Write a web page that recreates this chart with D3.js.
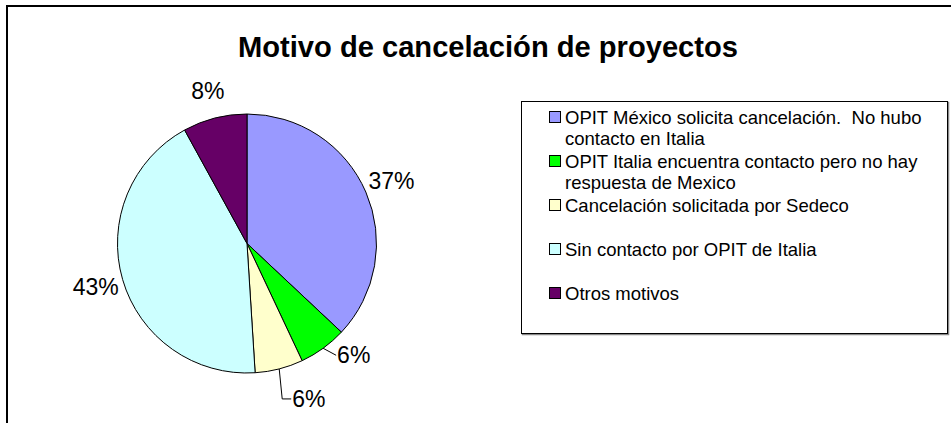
<!DOCTYPE html>
<html>
<head>
<meta charset="utf-8">
<script src="https://cdn.jsdelivr.net/npm/d3@7"></script>
<style>
  body { margin: 0; background: #fff; }
  text { font-family: "Liberation Sans", Arial, sans-serif; white-space: pre; }
</style>
</head>
<body>
<svg class="main-svg" width="951" height="423"></svg>
<script>
// values (percent of cancelled projects)
const motivos = [
  "OPIT México solicita cancelación.  No hubo contacto en Italia",
  "OPIT Italia encuentra contacto pero no hay respuesta de Mexico",
  "Cancelación solicitada por Sedeco",
  "Sin contacto por OPIT de Italia",
  "Otros motivos"
];
const legendLines = [
  ["OPIT México solicita cancelación.  No hubo", "contacto en Italia"],
  ["OPIT Italia encuentra contacto pero no hay", "respuesta de Mexico"],
  ["Cancelación solicitada por Sedeco"],
  ["Sin contacto por OPIT de Italia"],
  ["Otros motivos"]
];
const porcentajes = [37, 6, 6, 43, 8];
const colores = ["#9999ff", "#00ff00", "#ffffcc", "#ccffff", "#660066"];

const svg = d3.select(".main-svg");
const width = 951, height = 423;

// chart frame (only top and left edges show)
svg.append("path")
  .attr("d", `M7,${height} V6 H${width}`)
  .attr("fill", "none")
  .attr("stroke", "#000")
  .attr("stroke-width", 2);

svg.append("text")
  .attr("x", 488)
  .attr("y", 57)
  .attr("text-anchor", "middle")
  .attr("font-size", 30)
  .attr("font-weight", "bold")
  .attr("textLength", 500)
  .attr("lengthAdjust", "spacingAndGlyphs")
  .text("Motivo de cancelación de proyectos");

const cx = 247, cy = 243.5, r = 129.5;

const pie = d3.pie().sort(null).value(d => d);
const arcs = pie(porcentajes);
const arc = d3.arc().innerRadius(0).outerRadius(r);

const g = svg.append("g").attr("transform", `translate(${cx},${cy})`);

g.selectAll("path.slice")
  .data(arcs)
  .join("path")
    .attr("class", "slice")
    .attr("d", arc)
    .attr("fill", (d, i) => colores[i])
    .attr("stroke", "#000")
    .attr("stroke-width", 1);

// labels sit on an outer ring at the slice's mid angle
const labelArc = d3.arc().innerRadius(r + 28).outerRadius(r + 28);

function mid(d) { return (d.startAngle + d.endAngle) / 2; }
function edge(d) { return [Math.sin(mid(d)) * r, -Math.cos(mid(d)) * r]; }

// the two thin slices get leader lines like the original
const leaders = [
  null,
  d => { const [x, y] = edge(d); return [[x, y], [x + 13, y + 7]]; },
  d => { const [x, y] = edge(d); return [[x, y], [x + 3, y + 30], [x + 12, y + 30]]; },
  null,
  null
];

g.selectAll("path.leader")
  .data(arcs.filter((d, i) => leaders[i]))
  .join("path")
    .attr("class", "leader")
    .attr("d", d => d3.line()(leaders[d.index](d)))
    .attr("fill", "none")
    .attr("stroke", "#000")
    .attr("stroke-width", 1);

g.selectAll("text.pct")
  .data(arcs)
  .join("text")
    .attr("class", "pct")
    .attr("font-size", 23)
    .attr("text-anchor", (d, i) => leaders[i] ? "start" : "middle")
    .attr("dominant-baseline", "central")
    .attr("x", (d, i) => {
      if (leaders[i]) { const p = leaders[i](d); return p[p.length - 1][0] + 1; }
      return labelArc.centroid(d)[0];
    })
    .attr("y", (d, i) => {
      if (leaders[i]) { const p = leaders[i](d); return p[p.length - 1][1]; }
      return labelArc.centroid(d)[1];
    })
    .text(d => d3.format(".0%")(d.data / 100));

// legend
const legend = svg.append("g").attr("transform", "translate(521,101)");
const lw = 426, lh = 232;
legend.append("rect")
  .attr("x", 1.5).attr("y", 1.5).attr("width", lw).attr("height", lh)
  .attr("fill", "none").attr("stroke", "#888").attr("stroke-width", 1.5);
legend.append("rect")
  .attr("x", 0.5).attr("y", 0.5).attr("width", lw).attr("height", lh)
  .attr("fill", "#fff").attr("stroke", "#000").attr("stroke-width", 1);

const rowY = d3.scaleLinear().domain([0, motivos.length - 1]).range([16, 192]);
const lineH = 21;

const item = legend.selectAll("g.item")
  .data(motivos)
  .join("g")
    .attr("class", "item")
    .attr("transform", (d, i) => `translate(28,${rowY(i)})`);

item.append("rect")
  .attr("x", 0.5).attr("y", -5.5)
  .attr("width", 11).attr("height", 11)
  .attr("fill", (d, i) => colores[i])
  .attr("stroke", "#000");

item.selectAll("text")
  .data((d, i) => legendLines[i])
  .join("text")
    .attr("x", 16)
    .attr("y", (d, j) => j * lineH)
    .attr("dominant-baseline", "central")
    .attr("font-size", 18.5)
    .text(d => d);
</script>
</body>
</html>
